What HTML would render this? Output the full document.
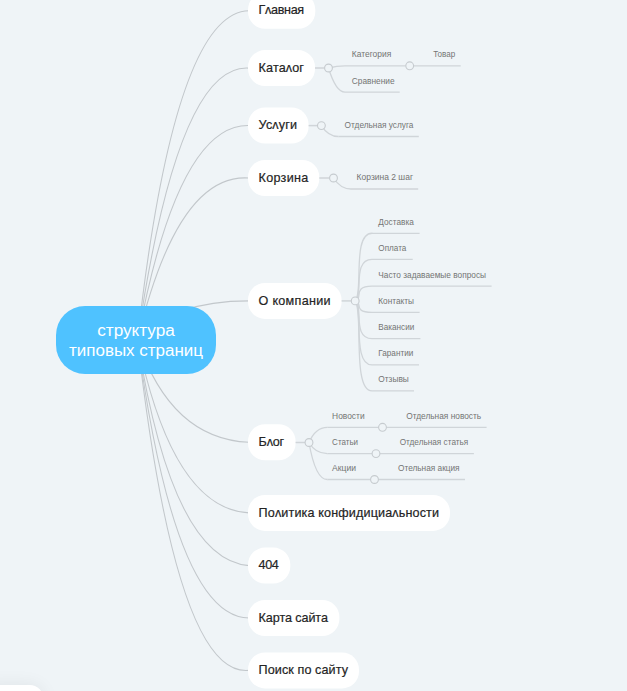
<!DOCTYPE html><html><head><meta charset="utf-8"><style>html,body{margin:0;padding:0;background:#EFF4F7;overflow:hidden;width:627px;height:691px;position:relative}svg{display:block}</style></head><body>
<svg width="627" height="691" viewBox="0 0 627 691" font-family="Liberation Sans, sans-serif">
<rect width="627" height="691" fill="#EFF4F7"/>
<g fill="none" stroke="#C2C7CB" stroke-width="1.1">
<path d="M137.5 340.0 Q174.2 11.7 249.0 10.7"/>
<path d="M137.5 340.0 Q177.8 63.0 249.0 68.1"/>
<path d="M137.5 340.0 Q177.5 123.7 249.0 125.5"/>
<path d="M137.5 340.0 Q177.6 172.8 249.0 178.0"/>
<path d="M137.5 340.0 Q172.3 300.9 249.0 300.9"/>
<path d="M137.5 340.0 Q171.0 439.0 249.0 442.3"/>
<path d="M137.5 340.0 Q172.5 508.9 249.0 512.9"/>
<path d="M137.5 340.0 Q172.1 559.7 249.0 565.6"/>
<path d="M137.5 340.0 Q174.9 617.3 249.0 618.0"/>
<path d="M137.5 340.0 Q176.2 677.8 249.0 670.4"/>
</g>
<rect x="56" y="306" width="160" height="68" rx="29" fill="#4FC2FF"/>
<text x="136" y="336" fill="#fff" font-size="16" text-anchor="middle" textLength="77.5" lengthAdjust="spacingAndGlyphs">структура</text>
<text x="136" y="356" fill="#fff" font-size="16" text-anchor="middle" textLength="134" lengthAdjust="spacingAndGlyphs">типовых страниц</text>
<rect x="248" y="-7.3" width="67.3" height="36" rx="17" fill="#fff"/>
<text x="258.6" y="14.3" fill="#242424" font-size="12.6" stroke="#242424" stroke-width="0.2" textLength="45.6" lengthAdjust="spacing">Гʌавная</text>
<rect x="248" y="50.1" width="67.0" height="36" rx="17" fill="#fff"/>
<text x="258.6" y="71.7" fill="#242424" font-size="12.6" stroke="#242424" stroke-width="0.2" textLength="45.3" lengthAdjust="spacing">Катаʌог</text>
<rect x="248" y="107.5" width="60.6" height="36" rx="17" fill="#fff"/>
<text x="258.6" y="129.1" fill="#242424" font-size="12.6" stroke="#242424" stroke-width="0.2" textLength="38.4" lengthAdjust="spacing">Усʌуги</text>
<rect x="248" y="160.0" width="71.3" height="36" rx="17" fill="#fff"/>
<text x="258.6" y="181.6" fill="#242424" font-size="12.6" stroke="#242424" stroke-width="0.2" textLength="49.6" lengthAdjust="spacing">Корзина</text>
<rect x="248" y="282.9" width="93.6" height="36" rx="17" fill="#fff"/>
<text x="258.6" y="304.5" fill="#242424" font-size="12.6" stroke="#242424" stroke-width="0.2" textLength="71.9" lengthAdjust="spacing">О компании</text>
<rect x="248" y="424.3" width="47.6" height="36" rx="17" fill="#fff"/>
<text x="258.6" y="445.9" fill="#242424" font-size="12.6" stroke="#242424" stroke-width="0.2" textLength="25.5" lengthAdjust="spacing">Бʌог</text>
<rect x="248" y="494.9" width="202.0" height="36" rx="17" fill="#fff"/>
<text x="258.6" y="516.5" fill="#242424" font-size="12.6" stroke="#242424" stroke-width="0.2" textLength="180.4" lengthAdjust="spacing">Поʌитика конфидициаʌьности</text>
<rect x="248" y="547.6" width="42.3" height="36" rx="17" fill="#fff"/>
<text x="258.6" y="569.2" fill="#242424" font-size="12.6" stroke="#242424" stroke-width="0.2" textLength="20.2" lengthAdjust="spacing">404</text>
<rect x="248" y="600.0" width="91.4" height="36" rx="17" fill="#fff"/>
<text x="258.6" y="621.6" fill="#242424" font-size="12.6" stroke="#242424" stroke-width="0.2" textLength="69.3" lengthAdjust="spacing">Карта сайта</text>
<rect x="248" y="652.4" width="111.0" height="36" rx="17" fill="#fff"/>
<text x="258.6" y="674.0" fill="#242424" font-size="12.6" stroke="#242424" stroke-width="0.2" textLength="89.4" lengthAdjust="spacing">Поиск по сайту</text>
<line x1="315" y1="68" x2="324.5" y2="68" stroke="#D0D5D9" stroke-width="1.5"/>
<line x1="308.6" y1="125.6" x2="317.4" y2="125.6" stroke="#D0D5D9" stroke-width="1.5"/>
<line x1="319.3" y1="178" x2="329.5" y2="178" stroke="#D0D5D9" stroke-width="1.5"/>
<line x1="341.6" y1="300.9" x2="351.2" y2="300.9" stroke="#D0D5D9" stroke-width="1.5"/>
<line x1="295.6" y1="442.5" x2="305" y2="442.5" stroke="#D0D5D9" stroke-width="1.5"/>
<g fill="none" stroke="#D0D5D9" stroke-width="1.3">
<path d="M328.5 68.0 Q336.8 65.8 345.0 65.8"/>
<path d="M328.5 68.0 Q335.9 92.2 345.0 92.2"/>
<path d="M321.4 125.6 Q328.2 136.5 338.4 136.5"/>
<path d="M333.5 178.0 Q340.5 189.0 351.0 189.0"/>
<path d="M355.2 300.9 C363.7 293.7 351.4 231.2 373.0 233.3"/>
<path d="M355.2 300.9 C363.7 296.5 351.4 258.1 373.0 259.4"/>
<path d="M355.2 300.9 C363.7 299.3 351.4 285.6 373.0 286.1"/>
<path d="M355.2 300.9 C363.7 302.1 351.4 312.7 373.0 312.3"/>
<path d="M355.2 300.9 C363.7 304.9 351.4 339.8 373.0 338.6"/>
<path d="M355.2 300.9 C363.7 307.7 351.4 366.9 373.0 364.9"/>
<path d="M355.2 300.9 C363.7 310.5 351.4 393.7 373.0 390.9"/>
<path d="M309.0 442.5 Q315.4 427.3 327.3 427.3"/>
<path d="M309.0 442.5 Q315.4 453.6 327.3 453.6"/>
<path d="M309.0 442.5 Q315.4 479.5 327.3 479.5"/>
<line x1="345.0" y1="65.8" x2="405.7" y2="65.8"/>
<line x1="413.7" y1="65.8" x2="460.7" y2="65.8"/>
<line x1="345.0" y1="92.2" x2="399.7" y2="92.2"/>
<line x1="338.4" y1="136.5" x2="418.8" y2="136.5"/>
<line x1="351.0" y1="189.0" x2="418.2" y2="189.0"/>
<line x1="373.0" y1="233.3" x2="419.6" y2="233.3"/>
<line x1="373.0" y1="259.4" x2="412.7" y2="259.4"/>
<line x1="373.0" y1="286.1" x2="491.6" y2="286.1"/>
<line x1="373.0" y1="312.3" x2="419.6" y2="312.3"/>
<line x1="373.0" y1="338.6" x2="420.4" y2="338.6"/>
<line x1="373.0" y1="364.9" x2="419.0" y2="364.9"/>
<line x1="373.0" y1="390.9" x2="414.0" y2="390.9"/>
<line x1="327.3" y1="427.3" x2="378.5" y2="427.3"/>
<line x1="386.5" y1="427.3" x2="486.6" y2="427.3"/>
<line x1="327.3" y1="453.6" x2="372.0" y2="453.6"/>
<line x1="380.0" y1="453.6" x2="473.9" y2="453.6"/>
<line x1="327.3" y1="479.5" x2="370.5" y2="479.5"/>
<line x1="378.5" y1="479.5" x2="465.0" y2="479.5"/>
</g>
<g fill="#EFF4F7" stroke="#C6CBCF" stroke-width="1.1">
<circle cx="328.5" cy="68.0" r="3.9"/>
<circle cx="409.7" cy="65.8" r="3.9"/>
<circle cx="321.4" cy="125.6" r="3.9"/>
<circle cx="333.5" cy="178.0" r="3.9"/>
<circle cx="355.2" cy="300.9" r="3.9"/>
<circle cx="309.0" cy="442.5" r="3.9"/>
<circle cx="382.5" cy="427.3" r="3.9"/>
<circle cx="376.0" cy="453.6" r="3.9"/>
<circle cx="374.5" cy="479.5" r="3.9"/>
</g>
<g fill="#747474" font-size="8.2">
<text x="351.8" y="57.2" textLength="39.5" lengthAdjust="spacingAndGlyphs">Категория</text>
<text x="433.2" y="57.2" textLength="22.0" lengthAdjust="spacingAndGlyphs">Товар</text>
<text x="351.8" y="83.6" textLength="42.8" lengthAdjust="spacingAndGlyphs">Сравнение</text>
<text x="344.6" y="127.9" textLength="68.8" lengthAdjust="spacingAndGlyphs">Отдельная услуга</text>
<text x="356.6" y="180.4" textLength="56.4" lengthAdjust="spacingAndGlyphs">Корзина 2 шаг</text>
<text x="378.3" y="224.7" textLength="35.5" lengthAdjust="spacingAndGlyphs">Доставка</text>
<text x="378.3" y="250.8" textLength="28.0" lengthAdjust="spacingAndGlyphs">Оплата</text>
<text x="378.3" y="277.5" textLength="107.7" lengthAdjust="spacingAndGlyphs">Часто задаваемые вопросы</text>
<text x="378.3" y="303.7" textLength="35.7" lengthAdjust="spacingAndGlyphs">Контакты</text>
<text x="378.3" y="330.0" textLength="36.0" lengthAdjust="spacingAndGlyphs">Вакансии</text>
<text x="378.3" y="356.3" textLength="35.0" lengthAdjust="spacingAndGlyphs">Гарантии</text>
<text x="378.3" y="382.3" textLength="30.5" lengthAdjust="spacingAndGlyphs">Отзывы</text>
<text x="332.1" y="418.7" textLength="32.5" lengthAdjust="spacingAndGlyphs">Новости</text>
<text x="406.2" y="418.7" textLength="75.0" lengthAdjust="spacingAndGlyphs">Отдельная новость</text>
<text x="332.1" y="445.0" textLength="26.0" lengthAdjust="spacingAndGlyphs">Статьи</text>
<text x="399.7" y="445.0" textLength="68.6" lengthAdjust="spacingAndGlyphs">Отдельная статья</text>
<text x="332.1" y="470.9" textLength="24.0" lengthAdjust="spacingAndGlyphs">Акции</text>
<text x="398.0" y="470.9" textLength="61.6" lengthAdjust="spacingAndGlyphs">Отельная акция</text>
</g>
</svg>
<div style="position:absolute;left:-20px;top:684.5px;width:63px;height:40px;border-radius:13px;background:#fff;box-shadow:0 0 18px rgba(0,0,0,0.07)"></div>
</body></html>
